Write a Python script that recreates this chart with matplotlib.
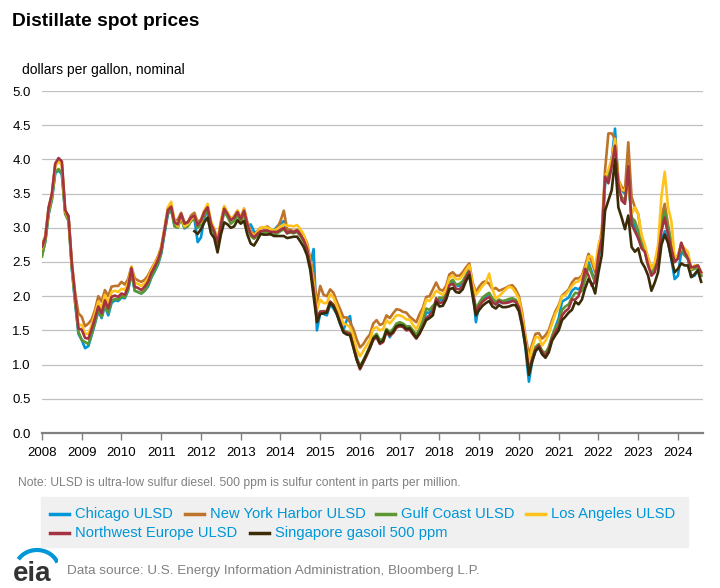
import numpy as np
import matplotlib
matplotlib.use("Agg")
import matplotlib.pyplot as plt
from matplotlib.lines import Line2D
from matplotlib.patches import Rectangle, Arc

plt.rcParams["font.family"] = ["Liberation Sans", "DejaVu Sans"]

nan = np.nan
start_year = 2008

# monthly values, Jan 2008 - Aug 2024, dollars per gallon
chicago = (
    [2.60, 2.80, 3.20, 3.42, 3.80, 3.84, 3.78, 3.22, 3.16, 2.40, 1.90, 1.45]
    + [1.36, 1.24, 1.27, 1.43, 1.60, 1.78, 1.68, 1.86, 1.72, 1.90, 1.94, 1.93]
    + [1.98, 1.97, 2.08, 2.34, 2.08, 2.06, 2.04, 2.08, 2.14, 2.27, 2.36, 2.46]
    + [2.62, 2.92, 3.20, 3.26, 3.04, 3.02, 3.16, 2.99, 3.03, 3.10, 3.14, 2.79]
    + [2.86, 3.15, 3.25, 3.02, 2.92, 2.75, 3.02, 3.25, 3.18, 3.12, 3.15, 3.22]
    + [3.10, 3.22, 3.02, 3.05, 2.95, 2.90, 2.94, 2.95, 2.96, 2.94, 2.96, 3.02]
    + [3.05, 3.10, 2.95, 2.95, 2.93, 2.95, 2.90, 2.84, 2.72, 2.45, 2.69, 1.50]
    + [1.76, 1.74, 1.72, 1.88, 1.82, 1.74, 1.60, 1.50, 1.65, 1.71, 1.30, 1.10]
    + [0.97, 1.05, 1.15, 1.26, 1.38, 1.42, 1.32, 1.35, 1.50, 1.40, 1.50, 1.56]
    + [1.58, 1.58, 1.52, 1.54, 1.46, 1.42, 1.50, 1.62, 1.76, 1.76, 1.82, 1.90]
    + [1.95, 1.93, 2.02, 2.18, 2.22, 2.16, 2.15, 2.20, 2.30, 2.40, 2.12, 1.62]
    + [1.90, 1.96, 2.00, 2.04, 1.93, 1.88, 1.92, 1.90, 1.92, 1.93, 1.94, 1.92]
    + [1.82, 1.58, 1.22, 0.75, 1.05, 1.20, 1.26, 1.16, 1.14, 1.24, 1.40, 1.55]
    + [1.68, 1.92, 1.95, 1.98, 2.08, 2.12, 2.10, 2.15, 2.30, 2.50, 2.35, 2.22]
    + [2.55, 2.80, 3.65, 3.75, 4.00, 4.45, 3.60, 3.55, 3.50, 3.70, 3.15, 3.00]
    + [2.85, 2.75, 2.70, 2.50, 2.35, 2.40, 2.50, 2.80, 2.95, 2.80, 2.55, 2.25]
    + [2.30, 2.65, 2.60, 2.55, 2.28, 2.30, 2.38, 2.30]
)

new_york = (
    [2.75, 2.88, 3.30, 3.50, 3.92, 3.98, 3.93, 3.25, 3.18, 2.50, 2.05, 1.75]
    + [1.70, 1.56, 1.60, 1.66, 1.80, 2.00, 1.92, 2.09, 2.00, 2.14, 2.15, 2.15]
    + [2.21, 2.17, 2.25, 2.43, 2.26, 2.23, 2.21, 2.24, 2.30, 2.40, 2.48, 2.58]
    + [2.72, 2.99, 3.27, 3.33, 3.10, 3.12, 3.22, 3.08, 3.08, 3.18, 3.22, 3.08]
    + [3.12, 3.25, 3.32, 3.08, 2.98, 2.80, 3.08, 3.30, 3.22, 3.13, 3.17, 3.25]
    + [3.15, 3.28, 3.08, 2.95, 2.90, 2.95, 3.00, 3.00, 3.02, 2.98, 2.95, 3.00]
    + [3.10, 3.25, 2.98, 2.97, 2.95, 2.97, 2.94, 2.88, 2.78, 2.55, 2.30, 1.90]
    + [2.15, 2.02, 2.00, 2.10, 2.05, 1.92, 1.81, 1.69, 1.69, 1.62, 1.52, 1.37]
    + [1.25, 1.30, 1.38, 1.44, 1.60, 1.65, 1.58, 1.60, 1.72, 1.68, 1.75, 1.81]
    + [1.80, 1.77, 1.76, 1.70, 1.66, 1.62, 1.74, 1.83, 1.99, 2.00, 2.10, 2.20]
    + [2.10, 2.08, 2.15, 2.32, 2.35, 2.30, 2.30, 2.35, 2.42, 2.48, 2.20, 2.06]
    + [2.14, 2.20, 2.22, 2.18, 2.10, 2.12, 2.08, 2.10, 2.12, 2.15, 2.16, 2.10]
    + [2.00, 1.75, 1.40, 1.15, 1.30, 1.45, 1.46, 1.38, 1.43, 1.50, 1.65, 1.78]
    + [1.87, 2.01, 2.05, 2.10, 2.20, 2.26, 2.26, 2.30, 2.45, 2.62, 2.50, 2.35]
    + [2.70, 2.95, 3.85, 4.38, 4.38, 4.30, 3.70, 3.60, 3.55, 4.25, 3.45, 3.30]
    + [3.20, 2.85, 2.70, 2.55, 2.40, 2.45, 2.60, 3.15, 3.35, 3.05, 2.75, 2.50]
    + [2.55, 2.78, 2.62, 2.60, 2.40, 2.42, 2.45, 2.32]
)

gulf_coast = (
    [2.58, 2.80, 3.20, 3.42, 3.82, 3.86, 3.80, 3.20, 3.10, 2.42, 1.92, 1.48]
    + [1.36, 1.33, 1.30, 1.45, 1.62, 1.80, 1.70, 1.88, 1.76, 1.93, 1.96, 1.95]
    + [2.00, 1.98, 2.10, 2.36, 2.08, 2.06, 2.04, 2.08, 2.16, 2.28, 2.38, 2.48]
    + [2.64, 2.94, 3.22, 3.28, 3.02, 3.00, 3.14, 3.00, 3.02, 3.10, 3.14, 3.00]
    + [3.05, 3.18, 3.26, 3.02, 2.92, 2.74, 3.00, 3.24, 3.16, 3.06, 3.10, 3.18]
    + [3.08, 3.20, 3.00, 2.88, 2.84, 2.88, 2.92, 2.93, 2.94, 2.90, 2.90, 2.92]
    + [2.95, 2.98, 2.92, 2.93, 2.92, 2.94, 2.88, 2.80, 2.68, 2.42, 2.08, 1.66]
    + [1.78, 1.78, 1.78, 1.92, 1.88, 1.76, 1.62, 1.50, 1.48, 1.46, 1.30, 1.10]
    + [0.98, 1.06, 1.16, 1.28, 1.40, 1.45, 1.36, 1.38, 1.52, 1.48, 1.52, 1.60]
    + [1.62, 1.60, 1.56, 1.56, 1.50, 1.44, 1.52, 1.66, 1.82, 1.80, 1.86, 1.90]
    + [1.98, 1.97, 2.04, 2.20, 2.24, 2.17, 2.18, 2.22, 2.30, 2.38, 2.10, 1.82]
    + [1.90, 1.98, 2.02, 2.05, 1.97, 1.92, 1.95, 1.93, 1.94, 1.96, 1.97, 1.95]
    + [1.86, 1.62, 1.30, 0.92, 1.10, 1.26, 1.30, 1.20, 1.17, 1.26, 1.42, 1.53]
    + [1.62, 1.80, 1.85, 1.88, 1.98, 2.05, 2.04, 2.08, 2.25, 2.45, 2.32, 2.20]
    + [2.60, 2.80, 3.70, 3.70, 4.00, 4.20, 3.55, 3.45, 3.40, 3.75, 3.15, 3.10]
    + [2.95, 2.80, 2.65, 2.45, 2.35, 2.40, 2.60, 3.05, 3.25, 3.00, 2.80, 2.50]
    + [2.60, 2.75, 2.60, 2.55, 2.38, 2.40, 2.42, 2.30]
)

los_angeles = (
    [2.70, 2.85, 3.27, 3.48, 3.90, 3.97, 3.92, 3.24, 3.14, 2.46, 1.98, 1.58]
    + [1.58, 1.45, 1.45, 1.58, 1.75, 1.92, 1.82, 2.02, 1.90, 2.06, 2.08, 2.06]
    + [2.11, 2.09, 2.20, 2.43, 2.20, 2.18, 2.15, 2.19, 2.26, 2.38, 2.47, 2.56]
    + [2.70, 2.99, 3.30, 3.38, 3.10, 3.02, 3.18, 3.02, 3.05, 3.12, 3.18, 3.05]
    + [3.08, 3.25, 3.35, 3.10, 2.98, 2.80, 3.10, 3.32, 3.22, 3.13, 3.17, 3.25]
    + [3.15, 3.28, 3.06, 2.93, 2.88, 2.94, 3.00, 3.01, 3.00, 2.98, 2.96, 2.98]
    + [3.02, 3.05, 3.03, 3.03, 3.02, 3.04, 2.98, 2.90, 2.75, 2.50, 2.20, 1.80]
    + [1.95, 1.90, 1.90, 2.03, 1.98, 1.86, 1.72, 1.60, 1.58, 1.55, 1.42, 1.22]
    + [1.12, 1.20, 1.28, 1.36, 1.52, 1.55, 1.50, 1.52, 1.65, 1.60, 1.66, 1.72]
    + [1.72, 1.70, 1.66, 1.66, 1.58, 1.52, 1.62, 1.78, 1.95, 1.93, 2.00, 2.08]
    + [2.05, 2.02, 2.10, 2.27, 2.30, 2.25, 2.25, 2.30, 2.38, 2.45, 2.18, 2.02]
    + [2.08, 2.15, 2.20, 2.33, 2.10, 1.97, 2.00, 2.05, 2.10, 2.14, 2.12, 2.05]
    + [1.96, 1.70, 1.36, 1.05, 1.25, 1.40, 1.40, 1.28, 1.35, 1.45, 1.60, 1.74]
    + [1.84, 2.00, 2.02, 2.08, 2.15, 2.20, 2.22, 2.28, 2.40, 2.58, 2.58, 2.40]
    + [2.75, 2.90, 3.75, 3.85, 4.00, 4.30, 3.70, 3.55, 3.55, 3.70, 3.20, 3.30]
    + [3.20, 2.90, 2.75, 2.55, 2.40, 2.50, 2.75, 3.45, 3.82, 3.30, 3.10, 2.55]
    + [2.60, 2.75, 2.70, 2.65, 2.40, 2.45, 2.45, 2.35]
)

northwest_europe = (
    [2.72, 2.85, 3.29, 3.50, 3.94, 4.02, 3.97, 3.26, 3.16, 2.48, 2.00, 1.53]
    + [1.51, 1.39, 1.38, 1.52, 1.68, 1.85, 1.75, 1.94, 1.82, 1.99, 2.01, 1.99]
    + [2.04, 2.02, 2.14, 2.41, 2.14, 2.12, 2.09, 2.14, 2.21, 2.34, 2.43, 2.53]
    + [2.68, 2.97, 3.26, 3.31, 3.08, 3.05, 3.20, 3.06, 3.08, 3.15, 3.18, 3.04]
    + [3.10, 3.23, 3.30, 3.06, 2.95, 2.78, 3.05, 3.28, 3.20, 3.11, 3.15, 3.23]
    + [3.13, 3.25, 3.05, 2.91, 2.86, 2.91, 2.95, 2.96, 2.96, 2.94, 2.94, 2.94]
    + [2.97, 3.00, 2.92, 2.95, 2.93, 2.96, 2.90, 2.82, 2.70, 2.45, 2.10, 1.70]
    + [1.77, 1.78, 1.78, 1.92, 1.87, 1.76, 1.62, 1.49, 1.46, 1.45, 1.27, 1.08]
    + [0.93, 1.03, 1.13, 1.24, 1.36, 1.40, 1.30, 1.33, 1.48, 1.42, 1.46, 1.54]
    + [1.56, 1.55, 1.50, 1.51, 1.44, 1.38, 1.45, 1.56, 1.68, 1.72, 1.78, 1.97]
    + [1.90, 1.91, 2.00, 2.16, 2.18, 2.11, 2.10, 2.15, 2.27, 2.36, 2.06, 1.78]
    + [1.86, 1.92, 1.96, 1.99, 1.91, 1.88, 1.93, 1.90, 1.90, 1.91, 1.93, 1.92]
    + [1.84, 1.60, 1.30, 0.90, 1.08, 1.22, 1.28, 1.18, 1.13, 1.22, 1.38, 1.48]
    + [1.55, 1.72, 1.78, 1.82, 1.95, 1.95, 2.00, 2.18, 2.40, 2.30, 2.15, 2.22]
    + [2.60, 2.85, 3.75, 3.65, 3.90, 4.20, 3.65, 3.40, 3.35, 3.90, 3.05, 2.95]
    + [2.85, 2.70, 2.65, 2.45, 2.30, 2.35, 2.55, 2.95, 3.15, 2.90, 2.70, 2.50]
    + [2.55, 2.78, 2.65, 2.55, 2.42, 2.43, 2.45, 2.35]
)

singapore = (
    [nan] * 46
    + [2.95, 2.91]
    + [2.98, 3.08, 3.15, 2.92, 2.85, 2.64, 2.90, 3.08, 3.05, 3.00, 3.02, 3.11]
    + [3.06, 3.10, 2.90, 2.77, 2.74, 2.82, 2.91, 2.90, 2.90, 2.91, 2.88, 2.88]
    + [2.88, 2.88, 2.85, 2.86, 2.87, 2.87, 2.80, 2.72, 2.60, 2.38, 2.00, 1.62]
    + [1.74, 1.75, 1.76, 1.90, 1.85, 1.74, 1.60, 1.47, 1.44, 1.43, 1.25, 1.07]
    + [0.95, 1.05, 1.15, 1.25, 1.38, 1.42, 1.32, 1.35, 1.50, 1.44, 1.48, 1.56]
    + [1.58, 1.57, 1.52, 1.53, 1.46, 1.39, 1.46, 1.55, 1.65, 1.68, 1.72, 1.92]
    + [1.85, 1.86, 1.95, 2.10, 2.12, 2.06, 2.05, 2.10, 2.22, 2.31, 2.00, 1.72]
    + [1.80, 1.86, 1.90, 1.93, 1.85, 1.82, 1.87, 1.84, 1.84, 1.85, 1.87, 1.87]
    + [1.78, 1.55, 1.26, 0.85, 1.05, 1.20, 1.25, 1.15, 1.10, 1.18, 1.35, 1.43]
    + [1.50, 1.65, 1.70, 1.76, 1.80, 1.92, 1.88, 1.95, 2.12, 2.25, 2.18, 2.04]
    + [2.35, 2.60, 3.25, 3.40, 3.55, 4.00, 3.30, 3.15, 2.98, 3.18, 2.72, 2.65]
    + [2.70, 2.50, 2.42, 2.30, 2.08, 2.20, 2.35, 2.75, 2.90, 2.78, 2.55, 2.35]
    + [2.40, 2.48, 2.45, 2.45, 2.28, 2.32, 2.38, 2.21]
)

names = ["Chicago ULSD", "New York Harbor ULSD", "Gulf Coast ULSD",
         "Los Angeles ULSD", "Northwest Europe ULSD", "Singapore gasoil 500 ppm"]
series = [chicago, new_york, gulf_coast, los_angeles, northwest_europe, singapore]
colors = ["#0096D7", "#BD732A", "#5D9732", "#FFC31B", "#A33340", "#3B2B06"]
years = list(range(2008, 2025))
yticks = [0.0, 0.5, 1.0, 1.5, 2.0, 2.5, 3.0, 3.5, 4.0, 4.5, 5.0]

W, H = 720, 588
fig = plt.figure(figsize=(W / 100, H / 100), dpi=100)
ax = fig.add_axes([42 / W, 1 - 433 / H, 661 / W, 342 / H])

for vals, col in zip(series, colors):
    v = np.array(vals, dtype=float)
    t = start_year + np.arange(len(v)) / 12
    ax.plot(t, v, color=col, lw=1.9, solid_joinstyle="round")

ax.set_xlim(2008, 2024.63)
ax.set_ylim(0, 5)
ax.set_yticks(yticks)
ax.set_yticklabels([f"{y:.1f}" for y in yticks], fontsize=9.5)
ax.set_xticks(years)
ax.set_xticklabels([str(y) for y in years], fontsize=9.5)
ax.tick_params(axis="y", length=0, pad=8)
ax.tick_params(axis="x", length=5, width=1, color="#808080", pad=5)
ax.grid(axis="y", color="#C0C0C0", lw=0.9)
ax.set_axisbelow(True)
for s in ["top", "right", "left"]:
    ax.spines[s].set_visible(False)
ax.spines["bottom"].set_color("#808080")
ax.spines["bottom"].set_linewidth(1.6)

fig.text(12 / W, 1 - 21 / H, "Distillate spot prices", fontsize=13.8,
         fontweight="bold", va="center")
fig.text(22 / W, 1 - 70 / H, "dollars per gallon, nominal", fontsize=10,
         va="center")
fig.text(18 / W, 1 - 483 / H,
         "Note: ULSD is ultra-low sulfur diesel. 500 ppm is sulfur content in parts per million.",
         fontsize=8.7, color="#808080", va="center")

# legend box
fig.patches.append(Rectangle((41 / W, 1 - 547 / H), 647 / W, 50 / H,
                             transform=fig.transFigure, color="#F0F0F0", zorder=0))
legend_pos = [(50, 514), (185, 514), (376, 514), (526, 514), (50, 533), (250, 533)]
for (x, y), name, col in zip(legend_pos, names, colors):
    fig.lines.append(Line2D([x / W, (x + 19) / W], [1 - y / H, 1 - y / H],
                            transform=fig.transFigure, color=col, lw=2.5))
    fig.text((x + 25) / W, 1 - y / H, name, fontsize=10.6, color="#0096D7",
             va="center")

fig.text(67 / W, 1 - 571 / H,
         "Data source: U.S. Energy Information Administration, Bloomberg L.P.",
         fontsize=9.7, color="#808080", va="center")

# eia logo
lax = fig.add_axes([10 / W, 1 - 584 / H, 48 / W, 42 / H])
lax.set_xlim(0, 48)
lax.set_ylim(0, 42)
lax.axis("off")
lax.text(3, 10, "eia", fontsize=20, fontweight="bold", color="#333333", va="center")
lax.add_patch(Arc((27, 14), 44, 40, theta1=20, theta2=150, color="#0096D7", lw=3))

fig.savefig("out.png", dpi=100)
